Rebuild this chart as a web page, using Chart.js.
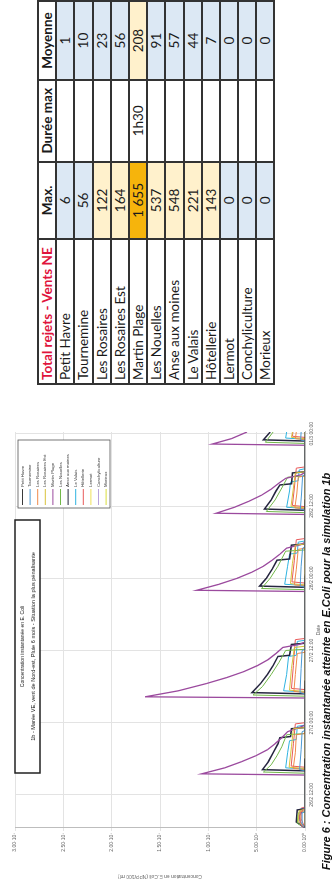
<!DOCTYPE html>
<html lang="fr">
<head>
<meta charset="utf-8">
<title>Concentration instantanée en E. Coli – simulation 1b</title>
<script src="https://cdn.jsdelivr.net/npm/chart.js@4.4.1/dist/chart.umd.min.js"></script>
<style>
  html, body { margin: 0; padding: 0; background: #fff; width: 335px; height: 879px; overflow: hidden; }
  /* landscape sheet, turned a quarter to the left */
  #page { position: absolute; left: 0; top: 0; width: 879px; height: 335px;
          transform-origin: 0 0; transform: translate(0, 879px) rotate(-90deg); background: #fff; }
  #chartBox { position: absolute; left: 0; top: 0; width: 470px; height: 322px; }
  #caption { position: absolute; left: 9px; top: 320px; white-space: nowrap;
             font: italic bold 11px "Liberation Sans", Arial, sans-serif; color: #111; }
  #recap { position: absolute; left: 494px; top: 37px; border-collapse: collapse;
           font-family: Lato, "Open Sans", sans-serif; font-size: 13.5px; color: #1a1a1a; }
  #recap td, #recap th { border: 2px solid #333; padding: 0 3px; height: 16.2px; line-height: 14px; white-space: nowrap; }
  #recap th { font-weight: bold; text-align: center; background: #fff; }
  #recap th.first { text-align: left; color: #e0143c; }
  #recap td.name { text-align: left; }
  #recap td.num { text-align: center; }
  .blue { background: #dce8f4; }
  .cream { background: #fff1cc; }
  .gold { background: #f6b40c; }
</style>
</head>
<body>
<div id="page">
  <div id="chartBox"><canvas id="c"></canvas></div>
  <div id="caption">Figure 6 : Concentration instantanée atteinte en E.Coli pour la simulation 1b</div>
  <table id="recap">
    <colgroup><col style="width:145px"><col style="width:80px"><col style="width:82px"><col style="width:80px"></colgroup>
    <thead><tr><th class="first">Total rejets - Vents NE</th><th>Max.</th><th>Durée max</th><th>Moyenne</th></tr></thead>
    <tbody id="recapBody"></tbody>
  </table>
</div>
<script>
// ---- axis ticks ----
const tickHours  = [12, 24, 36, 48, 60, 72];               // hours after 26/2 00:00
const tickLabels = ['26/2 12:00', '27/2 00:00', '27/2 12:00', '28/2 00:00', '28/2 12:00', '01/3 00:00'];
const yTickValues = [0, 5e6, 1e7, 1.5e7, 2e7, 2.5e7, 3e7];

// ---- outfalls ----
const outfalls = ['Petit Havre', 'Tournemine', 'Les Rosaires', 'Les Rosaires Est', 'Martin Plage', 'Les Nouelles',
                  'Anse aux moines', 'Le Valais', 'Hôtellerie', 'Lermot', 'Conchyliculture', 'Morieux'];
// summary (Max. in 10^4 E.Coli/100 ml, Moyenne likewise)
const maxValues  = ['6', '56', '122', '164', '1 655', '537', '548', '221', '143', '0', '0', '0'];
const maxDuration = ['', '', '', '', '1h30', '', '', '', '', '', '', ''];
const meanValues = ['1', '10', '23', '56', '208', '91', '57', '44', '7', '0', '0', '0'];

// ---- time series: [hour after 26/2 00:00, E.Coli per 100 ml] ----
const petitHavre = [[6.5,0],[15.8,0],[16.0,6e4],[18.0,4e4],[18.2,0],[28.6,0],[28.8,5e4],[31,3e4],[31.2,0],
  [46.4,0],[46.6,4e4],[48.5,2e4],[48.7,0],[59.2,0],[59.4,4e4],[61,2e4],[61.2,0],[72.3,0]];
const tournemine = [[6.5,0],[7.2,3e5],[9.0,3e5],[9.2,0],[16.0,0],[16.2,5.6e5],[19.5,4e5],[22.5,3e5],[22.7,0],
  [28.8,0],[29.0,5.2e5],[33,4e5],[36,3e5],[36.2,0],[46.5,0],[46.7,5e5],[50,4e5],[53,2.5e5],[53.2,0],
  [59.3,0],[59.5,4.8e5],[62,3.6e5],[65,2.5e5],[65.2,0],[70.8,0],[71,4.5e5],[72.3,4e5]];
const lesRosaires = [[6.5,0],[7.4,5e5],[9.2,5e5],[9.4,0],[16.2,0],[16.4,1.22e6],[19,1.0e6],[22,9e5],[22.2,0],
  [29.0,0],[29.2,1.15e6],[32,1.0e6],[35.5,8e5],[35.7,0],[46.7,0],[46.9,1.1e6],[49.5,9e5],[52.8,7e5],[53,0],
  [59.5,0],[59.7,1.05e6],[62,8.5e5],[64.8,7e5],[65,0],[71,0],[71.2,1.0e6],[72.3,9e5]];
const rosairesEst = [[6.5,0],[7.6,7e5],[9.4,6e5],[9.6,0],[16.4,0],[16.6,1.64e6],[20,1.4e6],[23,1.2e6],[23.2,0],
  [29.2,0],[29.4,1.6e6],[33,1.4e6],[36.5,1.1e6],[36.7,0],[46.9,0],[47.1,1.5e6],[50.5,1.3e6],[53.5,1.0e6],[53.7,0],
  [59.7,0],[59.9,1.45e6],[63,1.2e6],[65.5,1.0e6],[65.7,0],[71.2,0],[71.4,1.4e6],[72.3,1.3e6]];
const martinPlage = [[6.5,0],[7.0,4e5],[8.5,6e5],[9.5,2e5],[10.0,0],
  [15.3,0],[15.5,1.07e7],[16.5,8.3e6],[17.5,6.6e6],[18.5,5.1e6],[19.5,3.9e6],[20.5,3.1e6],[21.5,2.4e6],[22.5,1.8e6],[23.2,6e5],[23.6,0],
  [28.1,0],[28.3,1.655e7],[29.3,1.31e7],[30.5,1.02e7],[31.5,8.1e6],[32.5,6.3e6],[33.5,4.9e6],[34.5,3.8e6],[35.5,3.0e6],[36.5,2.3e6],[37.0,6e5],[37.4,0],
  [45.8,0],[46.0,1.12e7],[47.0,8.9e6],[48.0,7.0e6],[49.0,5.5e6],[50.0,4.3e6],[51.0,3.4e6],[52.0,2.6e6],[53.0,1.9e6],[53.6,4e5],[54.0,0],
  [58.6,0],[58.8,9.2e6],[59.8,7.3e6],[60.8,5.8e6],[61.8,4.5e6],[62.8,3.5e6],[63.8,2.7e6],[64.6,2.0e6],[65.2,4e5],[65.6,0],
  [70.1,0],[70.3,9.6e6],[71.2,7.6e6],[72.3,6.0e6]];
const lesNouelles = [[6.5,0],[7.3,8e5],[9.0,7e5],[9.2,0],[15.6,0],[15.8,4.3e6],[17.0,3.5e6],[18.5,2.9e6],[20.0,2.4e6],[22.0,1.9e6],[22.2,0],
  [28.4,0],[28.6,5.37e6],[30,4.4e6],[32,3.5e6],[34,2.7e6],[36,2.0e6],[36.2,0],[46.1,0],[46.3,4.5e6],[48,3.6e6],[50,2.8e6],[52.5,2.0e6],[52.7,0],
  [58.9,0],[59.1,4.0e6],[61,3.1e6],[63,2.4e6],[64.8,1.8e6],[65,0],[70.4,0],[70.6,4.1e6],[72.3,3.3e6]];
const anseAuxMoines = [[6.5,0],[7.5,9e5],[9.5,8e5],[9.7,0],[16.0,0],[16.2,4.4e6],[17.5,3.8e6],[19.0,3.3e6],[20.5,2.8e6],[21.5,2.6e6],[21.7,1.5e6],[23.0,1.4e6],[23.2,0],
  [28.8,0],[29.0,5.48e6],[30.5,4.6e6],[32,3.9e6],[33.5,3.3e6],[35,2.8e6],[35.2,1.6e6],[37,1.4e6],[37.2,0],
  [46.5,0],[46.7,4.7e6],[48,4.0e6],[49.5,3.4e6],[51,2.9e6],[51.2,1.6e6],[53.5,1.4e6],[53.7,0],
  [59.3,0],[59.5,4.2e6],[61,3.5e6],[62.5,3.0e6],[63.5,2.6e6],[63.7,1.4e6],[65.5,1.3e6],[65.7,0],[70.8,0],[71.0,4.3e6],[72.3,3.6e6]];
const leValais = [[6.5,0],[7.8,6e5],[9.6,5e5],[9.8,0],[16.3,0],[16.5,2.0e6],[19,1.8e6],[21,1.6e6],[21.2,9e5],[23.4,8e5],[23.6,0],
  [29.1,0],[29.3,2.21e6],[32,1.9e6],[35,1.7e6],[35.2,9e5],[37.5,8e5],[37.7,0],[46.8,0],[47.0,2.1e6],[50,1.8e6],[52,1.6e6],[52.2,8e5],[54,7e5],[54.2,0],
  [59.6,0],[59.8,1.9e6],[62.5,1.6e6],[64,1.5e6],[64.2,7e5],[66,6e5],[66.2,0],[71.1,0],[71.3,2.0e6],[72.3,1.9e6]];
const hotellerie = [[6.5,0],[8.0,4e5],[9.8,4e5],[10.0,0],[16.6,0],[16.8,1.43e6],[20.5,1.2e6],[23.8,1.0e6],[24.0,0],
  [29.5,0],[29.7,1.4e6],[33.5,1.2e6],[37.8,1.0e6],[38.0,0],[47.2,0],[47.4,1.35e6],[51,1.1e6],[54.4,9e5],[54.6,0],
  [59.9,0],[60.1,1.3e6],[63,1.1e6],[66.3,9e5],[66.5,0],[71.4,0],[71.6,1.3e6],[72.3,1.25e6]];
const lermot = [[6.5,0],[72.3,0]];
const conchyliculture = [[6.5,0],[72.3,0]];
const morieux = [[6.5,0],[72.3,0]];

const seriesData = [petitHavre, tournemine, lesRosaires, rosairesEst, martinPlage, lesNouelles,
                    anseAuxMoines, leValais, hotellerie, lermot, conchyliculture, morieux];
const seriesColors = ['#3a3a3a', '#4a9ad6', '#f08a4b', '#d9c23a', '#9b4a9e', '#72b84a',
                      '#25253f', '#2fb3e0', '#e85a5a', '#efe05a', '#b9a2dc', '#d8dd3c'];
const seriesWidths = [1, 1, 1, 1, 1.3, 1, 1.5, 1, 1, 1, 1, 1];

// ---- summary table ----
const body = document.getElementById('recapBody');
const maxClass = ['blue', 'blue', 'cream', 'cream', 'gold', 'cream', 'cream', 'cream', 'cream', 'blue', 'blue', 'blue'];
const meanClass = ['blue', 'blue', 'blue', 'blue', 'cream', 'blue', 'blue', 'blue', 'blue', 'blue', 'blue', 'blue'];
outfalls.forEach((name, i) => {
  const tr = document.createElement('tr');
  tr.innerHTML = `<td class="name">${name}</td><td class="num ${maxClass[i]}">${maxValues[i]}</td>` +
                 `<td class="num">${maxDuration[i]}</td><td class="num ${meanClass[i]}">${meanValues[i]}</td>`;
  body.appendChild(tr);
});

// ---- chart ----
const SUP = {'-':'⁻','0':'⁰','1':'¹','2':'²','3':'³','4':'⁴','5':'⁵','6':'⁶','7':'⁷','8':'⁸','9':'⁹'};
function sci(v) {
  if (v === 0) return '0.00·10⁰';
  const e = Math.floor(Math.log10(v) + 1e-9);
  const m = (v / Math.pow(10, e)).toFixed(2);
  return m + '·10' + String(e).split('').map(c => SUP[c]).join('');
}

const datasets = outfalls.map((name, i) => ({
  label: name,
  data: seriesData[i].map(p => ({x: p[0], y: p[1]})),
  borderColor: seriesColors[i],
  backgroundColor: seriesColors[i],
  borderWidth: seriesWidths[i],
  pointRadius: 0,
  tension: 0,
  fill: false
}));

// framed title and legend drawn inside the plotting area
const framesPlugin = {
  id: 'frames',
  afterDatasetsDraw(chart) {
    const ctx = chart.ctx, a = chart.chartArea;
    ctx.save();
    // title frame
    const tx = a.left + 55, tw = 253, ty = a.top, th = 25;
    ctx.fillStyle = '#fff';
    ctx.fillRect(tx, ty, tw, th);
    ctx.strokeStyle = '#222';
    ctx.lineWidth = 1.5;
    ctx.strokeRect(tx, ty, tw, th);
    ctx.fillStyle = '#222';
    ctx.textAlign = 'center';
    ctx.textBaseline = 'middle';
    ctx.font = '5px "Liberation Sans", Arial, sans-serif';
    ctx.fillText('Concentration instantanée en E. Coli', tx + tw / 2, ty + 8);
    ctx.font = '5.6px "Liberation Sans", Arial, sans-serif';
    ctx.fillText('1b - Marée VE, vent de Nord-est, Pluie 6 mois - Situation la plus pénalisante', tx + tw / 2, ty + 18);
    // legend frame
    const lw = 68, lx = a.right - 8 - lw, ly = a.top + 3, lh = 92;
    ctx.fillStyle = '#fff';
    ctx.fillRect(lx, ly, lw, lh);
    ctx.strokeStyle = '#555';
    ctx.lineWidth = 0.8;
    ctx.strokeRect(lx, ly, lw, lh);
    ctx.font = '4.3px "Liberation Sans", Arial, sans-serif';
    ctx.textAlign = 'left';
    chart.data.datasets.forEach((ds, i) => {
      const y = ly + 4.5 + i * 7.6;
      ctx.strokeStyle = ds.borderColor;
      ctx.lineWidth = 1;
      ctx.beginPath();
      ctx.moveTo(lx + 3, y);
      ctx.lineTo(lx + 19, y);
      ctx.stroke();
      ctx.fillStyle = '#333';
      ctx.fillText(ds.label, lx + 21, y);
    });
    ctx.restore();
  }
};

new Chart(document.getElementById('c'), {
  type: 'line',
  data: { datasets },
  plugins: [framesPlugin],
  options: {
    responsive: true,
    maintainAspectRatio: false,
    animation: false,
    layout: { padding: { top: 15, right: 23, left: 0, bottom: 0 } },
    plugins: { legend: { display: false }, tooltip: { enabled: false } },
    scales: {
      x: {
        type: 'linear', min: 6.5, max: 72.3,
        afterBuildTicks: s => { s.ticks = tickHours.map(v => ({ value: v })); },
        ticks: { callback: v => tickLabels[tickHours.indexOf(v)], font: { size: 5 }, color: '#666',
                 maxRotation: 0, autoSkip: false, padding: 1 },
        grid: { color: '#e3e3e3', tickLength: 3 },
        border: { color: '#bdbdbd' },
        title: { display: true, text: 'Date', font: { size: 5 }, color: '#666', padding: 0 },
        afterFit: s => { s.height = 17; }
      },
      y: {
        min: 0, max: 3e7,
        afterBuildTicks: s => { s.ticks = yTickValues.map(v => ({ value: v })); },
        ticks: { callback: v => sci(v), font: { size: 5 }, color: '#666', padding: 2 },
        grid: { color: '#e3e3e3', tickLength: 3 },
        border: { color: '#bdbdbd' },
        title: { display: true, text: 'Concentration en E.Coli (NPP/100 ml)', font: { size: 5 }, color: '#666', padding: 0 },
        afterFit: s => { s.width = 51; }
      }
    }
  }
});
</script>
</body>
</html>
